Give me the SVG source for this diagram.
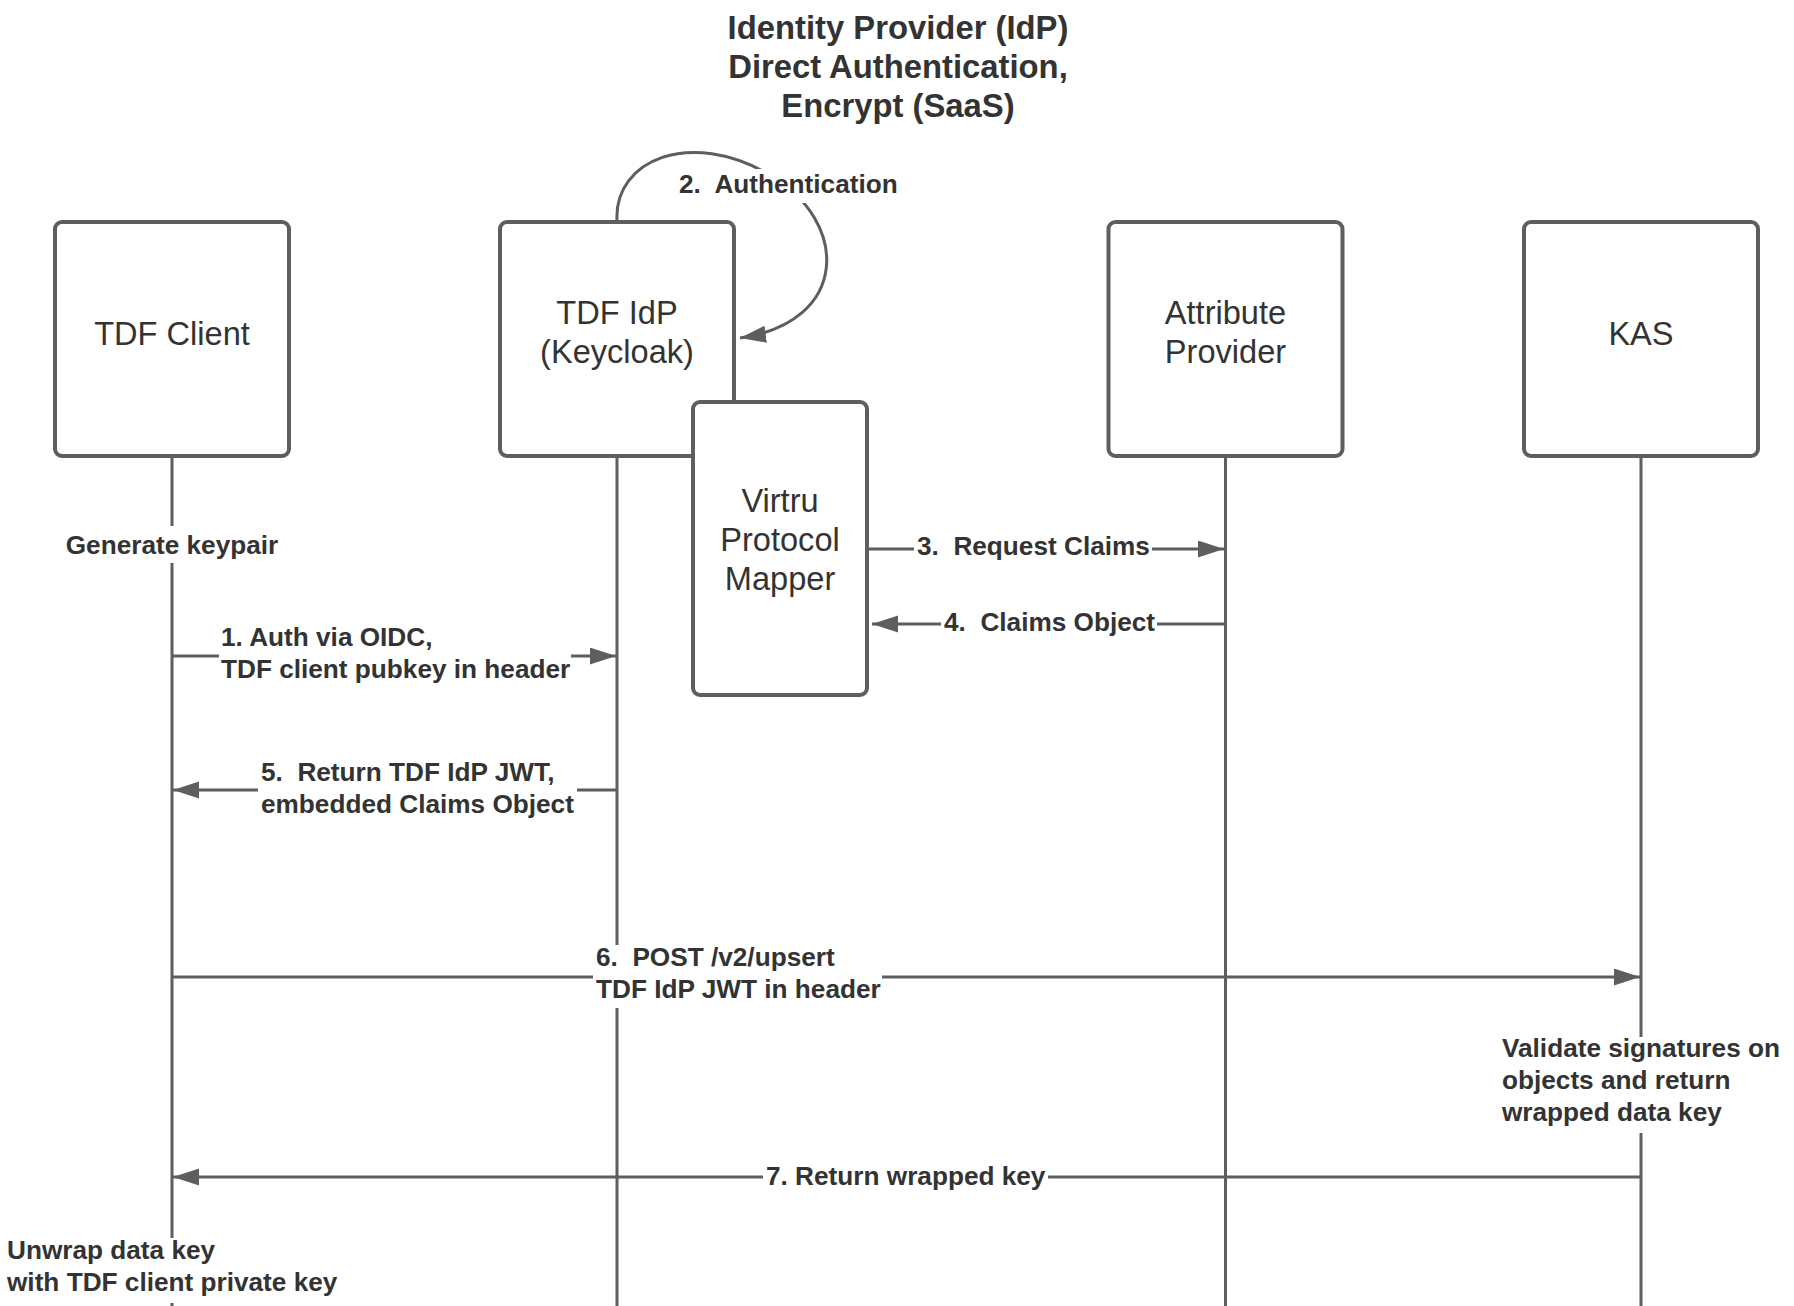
<svg xmlns="http://www.w3.org/2000/svg" width="1794" height="1306" viewBox="0 0 1794 1306">
<style>
.box{fill:#fff;stroke:#5e5e5e;stroke-width:4}
.life{stroke:#5e5e5e;stroke-width:3;fill:none}
.msg{stroke:#5e5e5e;stroke-width:3;fill:none;marker-end:url(#ah)}
.bg{fill:#fff}
text{font-family:"Liberation Sans",Arial,sans-serif;fill:#333}
.lbl{font-size:26.2px;font-weight:bold}
.nt{font-size:32.6px;text-anchor:middle}
.title{font-size:32.8px;font-weight:bold;text-anchor:middle}
</style>
<defs>
<marker id="ah" markerUnits="userSpaceOnUse" markerWidth="27" markerHeight="18" refX="26" refY="8.5" orient="auto">
<path d="M0,0 L26,8.5 L0,17 z" fill="#5e5e5e"/>
</marker>
</defs>
<g id="title">
<text class="title" x="898" y="39">Identity Provider (IdP)</text>
<text class="title" x="898" y="78">Direct Authentication,</text>
<text class="title" x="898" y="117">Encrypt (SaaS)</text>
</g>
<g id="lifelines">
<line class="life" x1="172" y1="456" x2="172" y2="1306"/>
<line class="life" x1="617" y1="456" x2="617" y2="1306"/>
<line class="life" x1="1225.5" y1="456" x2="1225.5" y2="1306"/>
<line class="life" x1="1641" y1="456" x2="1641" y2="1306"/>
</g>
<g id="tdf-client">
<rect class="box" x="55" y="222" width="234" height="234" rx="7"/>
<text class="nt" x="172" y="345">TDF Client</text>
</g>
<g id="tdf-idp">
<rect class="box" x="500" y="222" width="234" height="234" rx="7"/>
<text class="nt" x="617" y="324">TDF IdP</text>
<text class="nt" x="617" y="363">(Keycloak)</text>
</g>
<g id="attribute-provider">
<rect class="box" x="1108.5" y="222" width="234" height="234" rx="7"/>
<text class="nt" x="1225.5" y="324">Attribute</text>
<text class="nt" x="1225.5" y="363">Provider</text>
</g>
<g id="kas">
<rect class="box" x="1524" y="222" width="234" height="234" rx="7"/>
<text class="nt" x="1641" y="345">KAS</text>
</g>
<g id="virtru-protocol-mapper">
<rect class="box" x="693" y="402" width="174" height="293" rx="7"/>
<text class="nt" x="780" y="512">Virtru</text>
<text class="nt" x="780" y="551">Protocol</text>
<text class="nt" x="780" y="590">Mapper</text>
</g>
<g id="connectors">
<path class="msg" d="M617,220 C614,160 690,128 770,175 C850,222 850,322 740,338"/>
<line class="msg" x1="172" y1="656" x2="616" y2="656"/>
<line class="msg" x1="869" y1="549" x2="1224" y2="549"/>
<line class="msg" x1="1225.5" y1="624" x2="872" y2="624"/>
<line class="msg" x1="617" y1="790" x2="173" y2="790"/>
<line class="msg" x1="172" y1="977" x2="1640" y2="977"/>
<line class="msg" x1="1641" y1="1177" x2="173" y2="1177"/>
</g>
<g id="labels">
<rect class="bg" x="676" y="169" width="226" height="34"/>
<text class="lbl" x="679" y="193" xml:space="preserve">2.  Authentication</text>
<rect class="bg" x="62" y="526" width="221" height="37"/>
<text class="lbl" x="172" y="554" text-anchor="middle">Generate keypair</text>
<rect class="bg" x="219" y="626" width="352" height="60"/>
<text class="lbl" x="221" y="646">1. Auth via OIDC,</text>
<text class="lbl" x="221" y="678">TDF client pubkey in header</text>
<rect class="bg" x="914" y="535" width="238" height="28"/>
<text class="lbl" x="917" y="555" xml:space="preserve">3.  Request Claims</text>
<rect class="bg" x="941" y="610" width="216" height="28"/>
<text class="lbl" x="944" y="631" xml:space="preserve">4.  Claims Object</text>
<rect class="bg" x="258" y="760" width="319" height="60"/>
<text class="lbl" x="261" y="781" xml:space="preserve">5.  Return TDF IdP JWT,</text>
<text class="lbl" x="261" y="813">embedded Claims Object</text>
<rect class="bg" x="593" y="945" width="289" height="63"/>
<text class="lbl" x="596" y="966" xml:space="preserve">6.  POST /v2/upsert</text>
<text class="lbl" x="596" y="998">TDF IdP JWT in header</text>
<rect class="bg" x="1500" y="1037" width="284" height="96"/>
<text class="lbl" x="1502" y="1057">Validate signatures on</text>
<text class="lbl" x="1502" y="1089">objects and return</text>
<text class="lbl" x="1502" y="1121">wrapped data key</text>
<rect class="bg" x="763" y="1163" width="285" height="28"/>
<text class="lbl" x="766" y="1185">7. Return wrapped key</text>
<rect class="bg" x="5" y="1238" width="338" height="65"/>
<text class="lbl" x="7" y="1259">Unwrap data key</text>
<text class="lbl" x="7" y="1291">with TDF client private key</text>
</g>
</svg>
